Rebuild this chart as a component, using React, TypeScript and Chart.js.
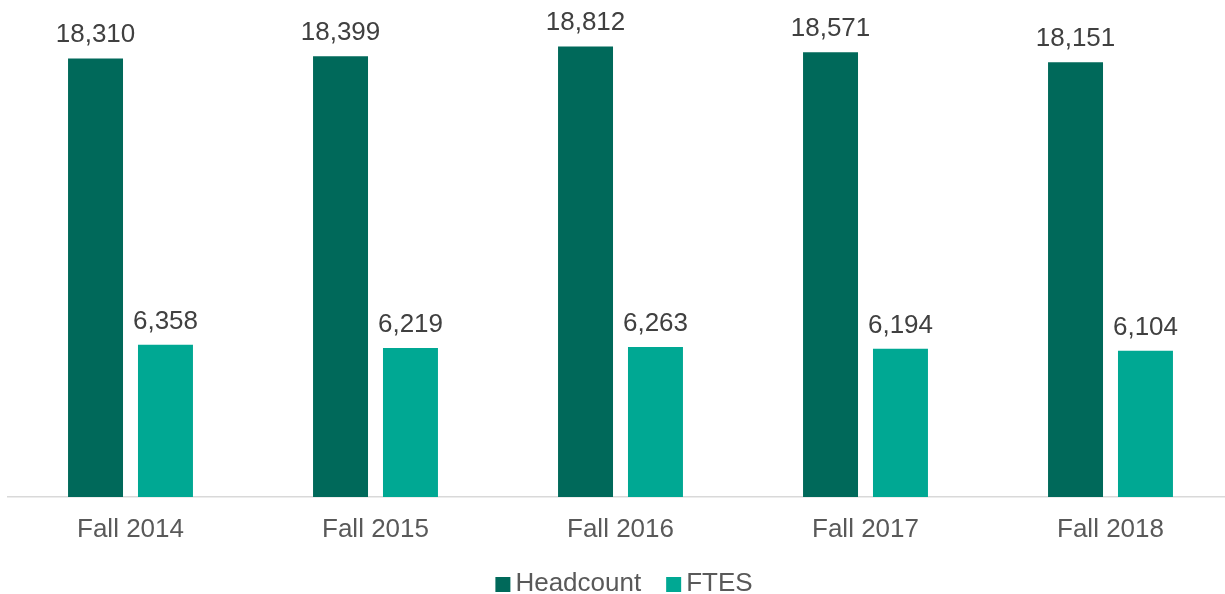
import React, { useEffect, useRef } from "react";
import { Chart, registerables } from "chart.js";

Chart.register(...registerables);

const categories = ["Fall 2014", "Fall 2015", "Fall 2016", "Fall 2017", "Fall 2018"];
const headcount = [18310, 18399, 18812, 18571, 18151];
const ftes = [6358, 6219, 6263, 6194, 6104];

const FONT = "'Liberation Sans', Arial, sans-serif";

const valueLabels = {
  id: "valueLabels",
  afterDatasetsDraw(chart: any) {
    const ctx = chart.ctx;
    ctx.save();
    ctx.font = `26px ${FONT}`;
    ctx.fillStyle = "#404040";
    ctx.textAlign = "center";
    ctx.textBaseline = "alphabetic";
    chart.data.datasets.forEach((ds: any, i: number) => {
      const meta = chart.getDatasetMeta(i);
      meta.data.forEach((bar: any, j: number) => {
        ctx.fillText(Number(ds.data[j]).toLocaleString("en-US"), bar.x, bar.y - 16);
      });
    });
    ctx.restore();
  },
};

const customLegend = {
  id: "customLegend",
  afterDraw(chart: any) {
    const ctx = chart.ctx;
    ctx.save();
    ctx.font = `26px ${FONT}`;
    ctx.textBaseline = "alphabetic";
    ctx.textAlign = "left";
    const box = 15;
    const gapText = 5;
    const gapItem = 25;
    const items = chart.data.datasets.map((ds: any) => ({
      label: ds.label,
      color: ds.backgroundColor,
      w: ctx.measureText(ds.label).width,
    }));
    const total = items.reduce((s: number, it: any) => s + box + gapText + it.w, 0) + gapItem * (items.length - 1);
    let x = 624 - total / 2;
    const baseline = 591;
    items.forEach((it: any) => {
      ctx.fillStyle = it.color;
      ctx.fillRect(x, baseline - 14, box, box);
      x += box + gapText;
      ctx.fillStyle = "#595959";
      ctx.fillText(it.label, x, baseline);
      x += it.w + gapItem;
    });
    ctx.restore();
  },
};

export default function App() {
  const ref = useRef<HTMLCanvasElement>(null);
  useEffect(() => {
    const chart = new Chart(ref.current!, {
      type: "bar",
      data: {
        labels: categories,
        datasets: [
          {
            label: "Headcount",
            data: headcount,
            backgroundColor: "#00695A",
            categoryPercentage: 0.571,
            barPercentage: 0.786,
          },
          {
            label: "FTES",
            data: ftes,
            backgroundColor: "#00A893",
            categoryPercentage: 0.571,
            barPercentage: 0.786,
          },
        ],
      },
      options: {
        responsive: false,
        animation: false,
        layout: { padding: { top: 18, left: 8, right: 2, bottom: 0 } },
        scales: {
          x: {
            grid: { display: false, drawTicks: false },
            border: { display: true, color: "#D9D9D9", width: 1.5 },
            ticks: { color: "#595959", font: { size: 26, family: FONT }, padding: 17 },
            afterFit(scale: any) {
              scale.height = 97;
            },
          },
          y: {
            display: false,
            min: 0,
            max: 20000,
          },
        },
        plugins: {
          legend: { display: false },
          tooltip: { enabled: false },
        },
      },
      plugins: [valueLabels, customLegend],
    });
    return () => chart.destroy();
  }, []);
  return (
    <div style={{ position: "fixed", left: 0, top: 0, width: 1225, height: 594, overflow: "hidden", background: "#fff" }}>
      <canvas ref={ref} width={1235} height={594} style={{ display: "block" }} />
    </div>
  );
}
